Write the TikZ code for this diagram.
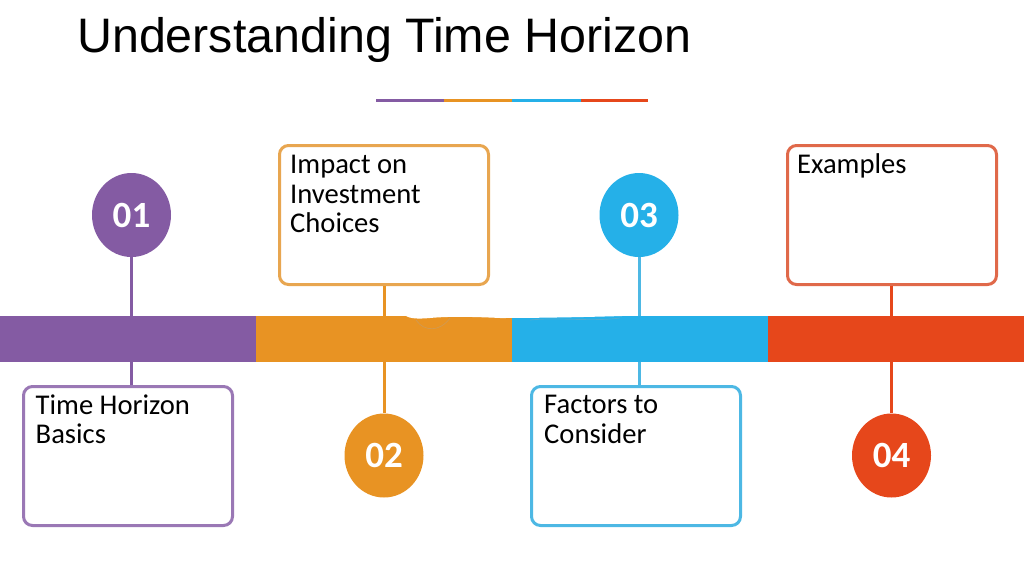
\documentclass[tikz,border=0pt]{standalone}
\usepackage{fontspec}
\setmainfont{Carlito}
\newfontfamily\titlefont{Liberation Sans}
\usetikzlibrary{shapes.geometric}

\definecolor{tpurple}{HTML}{845BA3}
\definecolor{torange}{HTML}{E89323}
\definecolor{tblue}{HTML}{25B0E8}
\definecolor{tred}{HTML}{E6471B}
\definecolor{lpurple}{HTML}{9A78B5}
\definecolor{lorange}{HTML}{E8A650}
\definecolor{lblue}{HTML}{4DB8E4}
\definecolor{lred}{HTML}{E0694A}

\tikzset{
  barpart/.style={rectangle, minimum width=256.5pt, minimum height=46pt, inner sep=0pt, fill=#1},
  numdot/.style={ellipse, minimum width=79pt, minimum height=84pt, inner sep=0pt, fill=#1, text=white,
    font=\fontsize{37}{37}\selectfont\bfseries},
  infobox/.style={rectangle, rounded corners=9pt, minimum width=209pt, minimum height=139pt, line width=3pt, draw=#1, fill=white},
  infotext/.style={anchor=north west, inner sep=0pt, align=left, font=\fontsize{28.6}{29.5}\selectfont},
  stem/.style={line width=3pt, draw=#1},
  rulepart/.style={line width=3pt, draw=#1}
}

\begin{document}
\begin{tikzpicture}[x=1pt,y=-1pt]

\useasboundingbox (0,0) rectangle (1024,576);

\node[anchor=west, inner sep=0pt, font=\titlefont\fontsize{48.4}{48.4}\selectfont] (title) at (77,40) {Understanding Time Horizon};

\coordinate (r0) at (376,100.5);
\coordinate (r1) at (444,100.5);
\coordinate (r2) at (512,100.5);
\coordinate (r3) at (581,100.5);
\coordinate (r4) at (648,100.5);

\draw[rulepart=tpurple] (r0) -- (r1);
\draw[rulepart=torange] (r1) -- (r2);
\draw[rulepart=tblue] (r2) -- (r3);
\draw[rulepart=tred] (r3) -- (r4);

\node[numdot=tpurple] (dot1) at (131.5,215) {01};
\node[numdot=torange] (dot2) at (384,455.5) {02};
\node[numdot=tblue] (dot3) at (639,215) {03};
\node[numdot=tred] (dot4) at (891.5,455.5) {04};

\node[infobox=lpurple] (box1) at (128,456) {};
\node[infobox=lorange] (box2) at (384,215) {};
\node[infobox=lblue] (box3) at (636,456) {};
\node[infobox=lred] (box4) at (892,215) {};

\draw[stem=tpurple] (dot1.south) -- (dot1.south |- box1.north);
\draw[stem=torange] (box2.south) -- (box2.south |- dot2.north);
\draw[stem=lblue] (dot3.south) -- (dot3.south |- box3.north);
\draw[stem=tred] (dot4.north |- box4.south) -- (dot4.north);

\node[barpart=tpurple, anchor=north west] (bar1) at (0,316) {};
\node[barpart=torange, anchor=north west] (bar2) at (256,316) {};
\node[barpart=tblue, anchor=north west] (bar3) at (512,316) {};
\node[barpart=tred, anchor=north west] (bar4) at (768,316) {};

% worn top edge of the bar
\fill[white] (404,315) .. controls (410,319) and (418,319) .. (430,318) .. controls (450,316) and (480,317) .. (500,318) .. controls (540,318) and (590,317) .. (622,316) -- (622,315) -- cycle;

\draw[black!35, opacity=.35, line width=.7pt] (416,320) .. controls (424,332) and (440,332) .. (450,318);

\draw[black!35, opacity=.35, line width=.7pt] (530,320) .. controls (560,317) and (590,322) .. (620,318);

\node[infotext] (text1) at (35.5,394.5) {Time Horizon\\Basics};
\node[infotext] (text2) at (290,155) {Impact on\\Investment\\Choices};
\node[infotext] (text3) at (544,395) {Factors to\\Consider};
\node[infotext] (text4) at (797,153) {Examples};

\end{tikzpicture}
\end{document}
